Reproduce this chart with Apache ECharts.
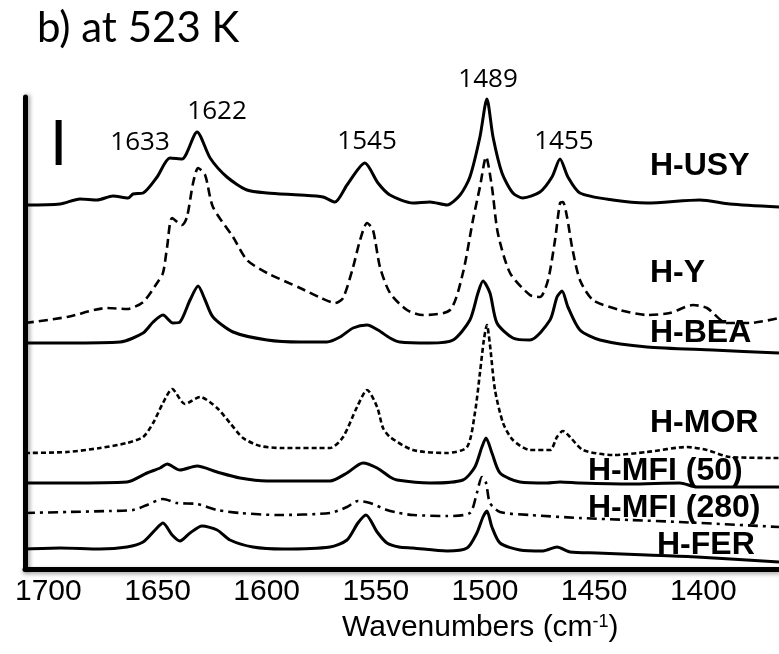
<!DOCTYPE html>
<html><head><meta charset="utf-8">
<script src="https://cdn.jsdelivr.net/npm/echarts@6/dist/echarts.min.js"></script>
<style>html,body{margin:0;padding:0;background:#fff}#c{width:779px;height:654px}</style>
</head><body><div id="c"></div>
<script>
// x: wavenumber (cm-1), y: absorbance (a.u., stacked offsets)
const tickValues = [1400, 1450, 1500, 1550, 1600, 1650, 1700];
const seriesNames = ['H-USY','H-Y','H-BEA','H-MOR','H-MFI (50)','H-MFI (280)','H-FER'];
const usy = [[1710.7,3.64],[1694.6,3.65],[1685.5,3.70],[1677.7,3.69],[1670.4,3.73],[1663.5,3.71],[1661.2,3.75],[1656.6,3.76],[1650.2,3.92],[1644.3,4.11],[1638.8,4.10],[1631.9,4.37],[1625.9,4.11],[1618.2,3.92],[1609.0,3.79],[1599.8,3.76],[1584.7,3.74],[1574.2,3.72],[1568.7,3.67],[1563.2,3.84],[1555.0,4.06],[1549.0,3.86],[1543.5,3.74],[1533.0,3.66],[1525.2,3.67],[1517.4,3.64],[1511.4,3.74],[1506.9,3.92],[1502.3,4.32],[1499.1,4.70],[1496.3,4.32],[1492.2,3.96],[1487.2,3.76],[1482.6,3.71],[1474.8,3.77],[1469.3,3.92],[1465.6,4.10],[1462.0,3.92],[1456.5,3.76],[1441.4,3.69],[1425.8,3.66],[1401.5,3.69],[1387.8,3.65],[1365.3,3.62]];
const hy = [[1710.7,2.46],[1691.4,2.52],[1673.1,2.61],[1664.0,2.60],[1656.6,2.67],[1650.2,2.86],[1647.5,2.96],[1645.6,3.22],[1643.3,3.51],[1638.8,3.44],[1636.5,3.52],[1633.7,3.86],[1631.4,4.01],[1628.2,3.94],[1624.6,3.62],[1615.4,3.32],[1609.0,3.09],[1599.8,2.96],[1584.7,2.81],[1575.1,2.71],[1568.7,2.66],[1565.0,2.71],[1560.4,3.02],[1557.2,3.29],[1554.0,3.46],[1551.3,3.39],[1548.1,3.02],[1543.5,2.76],[1535.7,2.59],[1528.4,2.54],[1516.0,2.59],[1510.1,2.96],[1505.5,3.49],[1502.3,3.82],[1499.5,4.12],[1496.8,3.82],[1494.1,3.36],[1488.5,2.96],[1479.4,2.74],[1474.8,2.72],[1471.1,2.89],[1467.9,3.29],[1465.6,3.66],[1464.3,3.67],[1462.4,3.52],[1460.1,3.22],[1456.5,2.89],[1450.5,2.69],[1438.2,2.59],[1425.8,2.54],[1415.3,2.56],[1404.7,2.64],[1398.3,2.61],[1389.2,2.46],[1378.6,2.46],[1365.3,2.51]];
const bea = [[1710.7,2.26],[1691.4,2.26],[1667.1,2.27],[1656.6,2.36],[1652.0,2.47],[1647.5,2.54],[1642.9,2.46],[1639.7,2.47],[1635.1,2.69],[1631.4,2.83],[1628.2,2.69],[1624.6,2.52],[1615.4,2.37],[1599.8,2.29],[1584.7,2.27],[1572.4,2.27],[1566.4,2.32],[1560.4,2.41],[1554.0,2.44],[1549.0,2.39],[1543.5,2.31],[1539.0,2.27],[1525.2,2.26],[1514.6,2.29],[1506.9,2.49],[1503.2,2.76],[1500.9,2.88],[1497.7,2.76],[1494.5,2.46],[1487.2,2.31],[1479.4,2.29],[1470.2,2.49],[1467.0,2.72],[1464.7,2.78],[1462.0,2.62],[1456.5,2.39],[1447.3,2.29],[1425.8,2.22],[1395.6,2.19],[1365.3,2.16]];
const mor = [[1710.7,1.16],[1691.4,1.17],[1676.3,1.21],[1664.0,1.26],[1656.6,1.32],[1652.0,1.46],[1647.5,1.66],[1643.3,1.80],[1637.4,1.65],[1630.5,1.72],[1622.7,1.61],[1616.8,1.46],[1610.8,1.31],[1603.0,1.23],[1592.5,1.21],[1571.0,1.21],[1565.0,1.32],[1558.6,1.62],[1554.0,1.79],[1549.4,1.62],[1546.7,1.41],[1543.5,1.32],[1533.0,1.19],[1517.4,1.16],[1508.2,1.22],[1504.6,1.56],[1502.3,1.96],[1500.5,2.29],[1499.1,2.44],[1497.7,2.24],[1495.4,1.79],[1491.7,1.46],[1487.2,1.29],[1479.4,1.19],[1470.2,1.19],[1467.0,1.32],[1464.3,1.38],[1461.0,1.32],[1455.1,1.19],[1441.4,1.14],[1425.8,1.17],[1407.5,1.22],[1398.3,1.19],[1387.8,1.12],[1365.3,1.11]];
const mfi50 = [[1710.7,0.86],[1691.4,0.86],[1664.0,0.87],[1654.8,0.96],[1648.8,1.01],[1645.6,1.05],[1639.7,0.99],[1631.9,1.03],[1622.7,0.97],[1612.2,0.91],[1599.8,0.88],[1571.0,0.88],[1563.2,0.96],[1555.9,1.06],[1549.4,1.01],[1543.5,0.92],[1540.3,0.89],[1525.2,0.86],[1510.1,0.89],[1504.6,1.02],[1501.4,1.22],[1499.5,1.31],[1496.8,1.16],[1493.1,0.96],[1484.0,0.87],[1471.6,0.86],[1465.6,0.87],[1456.5,0.86],[1433.6,0.85],[1410.7,0.86],[1402.9,0.82],[1365.3,0.82]];
const mfi280 = [[1710.7,0.56],[1691.4,0.57],[1671.7,0.58],[1661.2,0.59],[1654.8,0.64],[1647.5,0.70],[1641.1,0.66],[1631.9,0.65],[1622.7,0.59],[1612.2,0.56],[1595.3,0.54],[1571.0,0.56],[1563.2,0.62],[1558.2,0.68],[1552.6,0.66],[1544.9,0.59],[1539.4,0.56],[1533.0,0.54],[1517.4,0.53],[1506.9,0.56],[1503.7,0.76],[1501.4,0.92],[1499.5,0.86],[1497.7,0.66],[1493.1,0.57],[1479.4,0.54],[1456.5,0.51],[1433.6,0.49],[1410.7,0.47],[1365.3,0.42]];
const fer = [[1710.7,0.20],[1694.6,0.21],[1676.3,0.20],[1664.0,0.22],[1656.6,0.27],[1651.1,0.39],[1647.5,0.46],[1643.3,0.34],[1639.7,0.28],[1635.1,0.36],[1629.6,0.43],[1622.7,0.39],[1616.8,0.29],[1606.3,0.22],[1592.5,0.20],[1571.0,0.22],[1563.2,0.29],[1558.2,0.46],[1554.5,0.54],[1549.4,0.37],[1544.9,0.26],[1539.4,0.22],[1533.0,0.21],[1517.4,0.18],[1508.2,0.21],[1503.7,0.36],[1500.9,0.52],[1499.1,0.58],[1496.8,0.42],[1493.1,0.26],[1484.0,0.19],[1473.4,0.18],[1467.0,0.22],[1461.0,0.17],[1448.7,0.16],[1425.8,0.14],[1402.9,0.12],[1365.3,0.07]];
// absorbance scale bar
const scaleBar = [[1695.3,4.49],[1695.3,4.04]];
// series name labels: [wavenumber, absorbance] anchor (left edge)
const nameLabelPos = [[1424.4,4.03],[1424.4,2.96],[1424.4,2.36],[1424.4,1.46],[1452.8,0.98],[1452.8,0.61],[1421.2,0.24]];
// peak annotations
const peakLabels = ['1633','1622','1545','1489','1455'];
const peakLabelPos = [[1658.0,4.26],[1622.7,4.57],[1554.0,4.27],[1498.6,4.89],[1463.8,4.27]];

const spectra = [usy, hy, bea, mor, mfi50, mfi280, fer];
const dashTypes = ['solid',[9,5],'solid',[5,3],'solid',[10,5,3,5],'solid'];

const chart = echarts.init(document.getElementById('c'));
const series = spectra.map((d, i) => ({
  name: seriesNames[i], type: 'line', data: d, showSymbol: false, symbol: 'none',
  smooth: 0.25, clip: false, silent: true,
  lineStyle: { color: '#000', width: dashTypes[i] === 'solid' ? 3 : 2.6, type: dashTypes[i], join: 'round' }
}));
series.push({
  type: 'line', data: scaleBar, symbol: 'none', silent: true,
  lineStyle: { color: '#000', width: 6, cap: 'butt' }
});
series.push({
  type: 'scatter', symbolSize: 0, clip: false, silent: true,
  itemStyle: { color: '#000', opacity: 1 },
  data: nameLabelPos.map((p, i) => ({ value: p, name: seriesNames[i] })),
  label: { show: true, position: 'right', distance: 0, formatter: '{b}',
    fontFamily: 'Liberation Sans, Arial, sans-serif', fontWeight: 'bold', fontSize: 32, color: '#000' }
});
series.push({
  type: 'scatter', symbolSize: 0, clip: false, silent: true,
  itemStyle: { color: '#000', opacity: 1 },
  data: peakLabelPos.map((p, i) => ({ value: p, name: peakLabels[i] })),
  label: { show: true, position: [0, 0], align: 'center', verticalAlign: 'middle', formatter: '{b}',
    textBorderWidth: 0, opacity: 1,
    fontFamily: 'Open Sans, Lato, sans-serif', fontSize: 26, color: '#000' }
});

chart.setOption({
  animation: false,
  grid: { left: 25, right: 0, top: 97, bottom: 85, containLabel: false },
  xAxis: {
    type: 'value', inverse: true, min: 1365.3, max: 1710.7,
    axisLine: { show: true, lineStyle: { color: '#000', width: 5, shadowColor: 'rgba(0,0,0,0.35)', shadowBlur: 4, shadowOffsetY: 2 } },
    axisTick: { show: false },
    splitLine: { show: false },
    axisLabel: { customValues: tickValues, formatter: v => String(Math.round(v)),
      fontFamily: 'Liberation Sans, Arial, sans-serif', fontSize: 30, color: '#000', margin: 8 }
  },
  yAxis: {
    type: 'value', min: 0, max: 4.72,
    axisLine: { show: true, lineStyle: { color: '#000', width: 5, shadowColor: 'rgba(0,0,0,0.35)', shadowBlur: 4, shadowOffsetX: 2 } },
    axisTick: { show: false }, axisLabel: { show: false }, splitLine: { show: false }
  },
  graphic: [
    { type: 'text', left: 37, top: 7, style: { text: 'b) at 523 K', font: '42px Lato, "Open Sans", sans-serif', fill: '#000' } },
    { type: 'text', left: 342, top: 613, style: {
        text: 'Wavenumbers (cm{sup|-1})',
        font: '30px "Liberation Sans", Arial, sans-serif', fill: '#000',
        rich: { sup: { fontSize: 18, fontFamily: 'Liberation Sans, Arial, sans-serif', verticalAlign: 'top', padding: [0,0,12,0], fill: '#000' } }
    } }
  ],
  series
});
</script></body></html>
